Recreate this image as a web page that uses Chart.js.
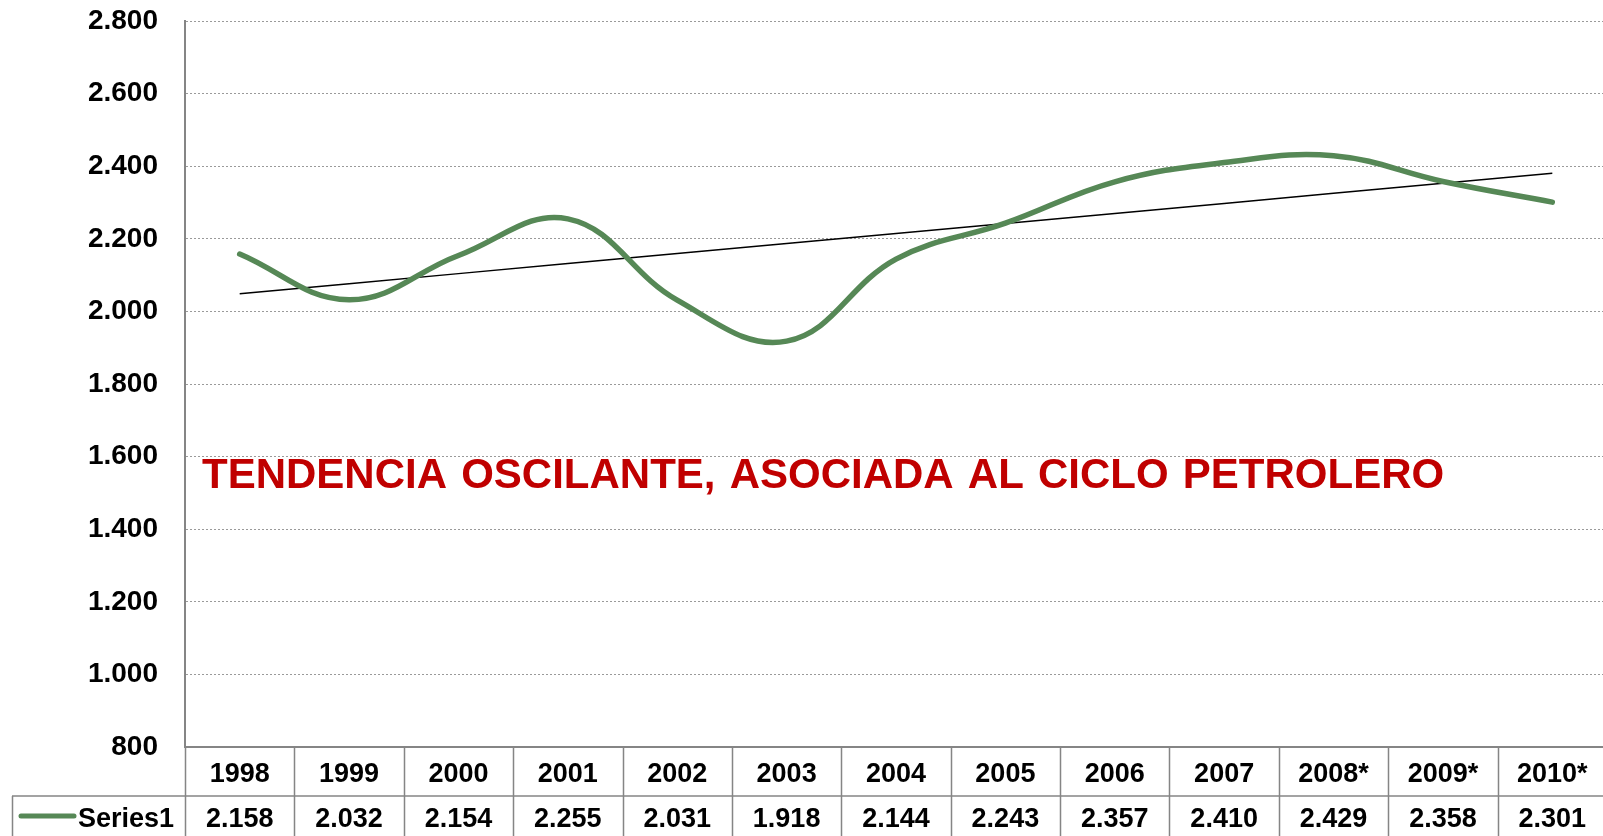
<!DOCTYPE html>
<html>
<head>
<meta charset="utf-8">
<script src="https://cdn.jsdelivr.net/npm/chart.js@4.4.1/dist/chart.umd.min.js"></script>
<style>
  html, body { margin: 0; padding: 0; background: #fff; overflow: hidden; }
  #wrap { width: 1603px; height: 836px; overflow: hidden; }
</style>
</head>
<body>
<div id="wrap"><canvas id="grafico" width="1608" height="836"></canvas></div>
<script>
const anios = ["1998", "1999", "2000", "2001", "2002", "2003", "2004", "2005", "2006", "2007", "2008*", "2009*", "2010*"];
const valores = [2158, 2032, 2154, 2255, 2031, 1918, 2144, 2243, 2357, 2410, 2429, 2358, 2301];
const nombreSerie = "Series1";
const textoNota = "TENDENCIA OSCILANTE, ASOCIADA AL CICLO PETROLERO";

const FUENTE = "'Liberation Sans', Arial, sans-serif";
const VERDE = "#568856";
const GRIS = "#858585";

// formato con punto de miles (2.800)
function fmt(n) {
  return String(Math.round(n)).replace(/\B(?=(\d{3})+(?!\d))/g, ".");
}

// linea de tendencia lineal (minimos cuadrados) sobre los valores
function tendencia(vals) {
  const n = vals.length;
  let sx = 0, sy = 0, sxy = 0, sxx = 0;
  vals.forEach((v, i) => { sx += i; sy += v; sxy += i * v; sxx += i * i; });
  const m = (n * sxy - sx * sy) / (n * sxx - sx * sx);
  const b = (sy - m * sx) / n;
  return vals.map((v, i) => b + m * i);
}

// tabla de datos bajo el eje x + nota en rojo
const tablaPlugin = {
  id: "tablaDatos",
  afterDraw(chart) {
    const ctx = chart.ctx;
    const x = chart.scales.x;
    const area = chart.chartArea;
    const ancho = x.getPixelForValue(1) - x.getPixelForValue(0);
    const yEje = area.bottom;
    const yFila = yEje + 49;
    const yFin = chart.height;

    ctx.save();
    ctx.strokeStyle = GRIS;
    ctx.lineWidth = 1.5;
    ctx.beginPath();
    // lineas verticales de columnas
    for (let i = 0; i <= anios.length; i++) {
      const px = Math.round(x.getPixelForValue(0) - ancho / 2 + i * ancho) + 0.5;
      ctx.moveTo(px, yEje);
      ctx.lineTo(px, yFin);
    }
    // linea entre encabezado y valores
    ctx.moveTo(12, yFila);
    ctx.lineTo(chart.width, yFila);
    // borde izquierdo de la leyenda
    ctx.moveTo(12.5, yFila);
    ctx.lineTo(12.5, yFin);
    ctx.stroke();

    ctx.fillStyle = "#000";
    ctx.font = "bold 27px " + FUENTE;
    ctx.textAlign = "center";
    ctx.textBaseline = "middle";
    anios.forEach((a, i) => {
      const px = x.getPixelForValue(i);
      ctx.fillText(a, px, yEje + 28);
      ctx.fillText(fmt(valores[i]), px, yFila + 24);
    });

    // leyenda de la serie
    ctx.strokeStyle = VERDE;
    ctx.lineWidth = 5;
    ctx.lineCap = "round";
    ctx.beginPath();
    ctx.moveTo(21, yFila + 20);
    ctx.lineTo(74, yFila + 20);
    ctx.stroke();
    ctx.textAlign = "right";
    ctx.fillText(nombreSerie, 174, yFila + 24);

    // nota
    ctx.fillStyle = "#c00000";
    ctx.font = "bold 42px " + FUENTE;
    ctx.wordSpacing = "2.5px";
    ctx.textAlign = "left";
    ctx.textBaseline = "alphabetic";
    ctx.fillText(textoNota, 202, 488);
    ctx.restore();
  }
};

new Chart(document.getElementById("grafico"), {
  type: "line",
  data: {
    labels: anios,
    datasets: [
      {
        label: nombreSerie,
        data: valores,
        borderColor: VERDE,
        borderWidth: 5.5,
        tension: 0.4,
        pointRadius: 0,
        borderCapStyle: "round",
        borderJoinStyle: "round",
        fill: false
      },
      {
        label: "Tendencia",
        data: tendencia(valores),
        borderColor: "#000",
        borderWidth: 1.5,
        tension: 0,
        pointRadius: 0,
        fill: false
      }
    ]
  },
  options: {
    responsive: false,
    animation: false,
    layout: { padding: { top: 21, right: 1, left: 0, bottom: 0 } },
    plugins: {
      legend: { display: false },
      tooltip: { enabled: false }
    },
    scales: {
      x: {
        offset: true,
        ticks: { display: false },
        grid: { display: false, drawTicks: false },
        border: { display: true, color: GRIS, width: 2 },
        afterFit(scale) { scale.height = 89; }
      },
      y: {
        min: 800,
        max: 2800,
        ticks: {
          stepSize: 200,
          padding: 0,
          color: "#000",
          font: { family: FUENTE, size: 28, weight: "bold" },
          callback: v => fmt(v)
        },
        grid: { color: "#9a9a9a", lineWidth: 1, drawTicks: true, tickLength: 27, tickColor: "rgba(0,0,0,0)" },
        border: { display: true, color: GRIS, width: 2, dash: [2, 2] },
        afterFit(scale) { scale.width = 185; }
      }
    }
  },
  plugins: [tablaPlugin]
});
</script>
</body>
</html>
